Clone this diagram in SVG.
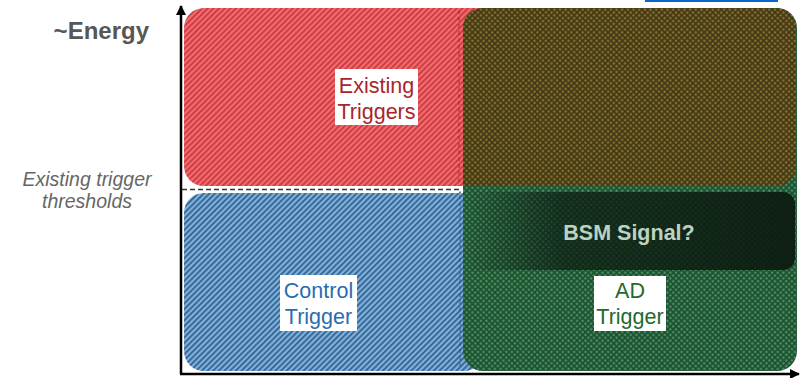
<svg xmlns="http://www.w3.org/2000/svg" width="802" height="378" viewBox="0 0 802 378">
<style>
.lbl{font-family:"Liberation Sans",Arial,sans-serif;font-size:21.5px;text-anchor:middle}
.axis{stroke:#000;stroke-width:2.5;fill:none}
.side{font-family:"Liberation Sans",Arial,sans-serif;font-style:italic;font-size:19.5px;fill:#666;text-anchor:middle}
</style>
<defs>
<pattern id="redH" patternUnits="userSpaceOnUse" width="4" height="4" patternTransform="rotate(45)">
<rect width="4" height="4" fill="#f46a6e"/><rect width="1.6" height="4" fill="#c2363c"/>
</pattern>
<pattern id="blueH" patternUnits="userSpaceOnUse" width="4" height="4" patternTransform="rotate(45)">
<rect width="4" height="4" fill="#80b0dc"/><rect width="1.7" height="4" fill="#2f5f8c"/>
</pattern>
<pattern id="greenH" patternUnits="userSpaceOnUse" width="4" height="4" patternTransform="rotate(45)">
<rect width="4" height="4" fill="#44905e"/><rect width="1.6" height="4" fill="#1e4c2f"/><rect width="4" height="1.6" fill="#1e4c2f"/>
</pattern>
<pattern id="oliveH" patternUnits="userSpaceOnUse" width="4" height="4" patternTransform="rotate(45)">
<rect width="4" height="4" fill="#8a6c30"/><rect width="1.6" height="4" fill="#3d3813"/><rect width="4" height="1.6" fill="#3d3813"/>
</pattern>
<linearGradient id="bsmG" x1="0" y1="0" x2="1" y2="0">
<stop offset="0" stop-color="#0c1a10" stop-opacity="0"/>
<stop offset="0.3" stop-color="#0c1a10" stop-opacity="0.7"/>
<stop offset="1" stop-color="#0c1a10" stop-opacity="0.93"/>
</linearGradient>
<marker id="arr" viewBox="0 0 10 10" refX="9" refY="5" markerWidth="4" markerHeight="4" orient="auto" markerUnits="strokeWidth">
<path d="M0,0 L10,5 L0,10 z" fill="#000"/>
</marker>
</defs>

<rect x="645" y="0" width="133" height="2" fill="#0a66c8"/>

<g id="existing-triggers-region">
<rect x="184" y="8" width="612" height="178" rx="20" fill="url(#redH)"/>
</g>
<g id="control-trigger-region">
<rect x="184" y="193" width="300" height="178" rx="20" fill="url(#blueH)"/>
</g>
<g id="ad-trigger-region">
<rect x="463" y="8" width="334" height="363" rx="20" fill="url(#greenH)"/>
<path d="M483,8 H776 A20,20 0 0 1 796,28 V166 A20,20 0 0 1 776,186 H463 V28 A20,20 0 0 1 483,8 Z" fill="url(#oliveH)"/>
</g>
<g id="bsm-signal">
<rect x="463" y="192" width="332" height="78" rx="12" fill="url(#bsmG)"/>
<text x="629" y="240" font-family="Liberation Sans,Arial,sans-serif" font-weight="bold" font-size="21.5" fill="#bcd2c2" text-anchor="middle">BSM Signal?</text>
</g>

<g id="connectors">
<line x1="459" y1="10" x2="459" y2="186" stroke="#9a2020" stroke-width="1" stroke-dasharray="4,3" opacity="0.8"/>
<line x1="460" y1="195" x2="460" y2="370" stroke="#234f80" stroke-width="1" stroke-dasharray="4,3" opacity="0.8"/>
<rect x="182" y="186" width="280" height="6" fill="#fff"/>
<path d="M182,189.5 H460 V193" stroke="#333" stroke-width="1.3" stroke-dasharray="5,3" fill="none"/>
<line class="axis" x1="181" y1="374" x2="181" y2="6" marker-end="url(#arr)"/>
<line class="axis" x1="180" y1="374" x2="799" y2="374" marker-end="url(#arr)"/>
</g>

<g id="label-existing">
<rect x="335" y="69" width="83" height="56" fill="#fff"/>
<text class="lbl" x="376.5" y="93" fill="#a8262a">Existing</text>
<text class="lbl" x="376.5" y="119" fill="#a8262a">Triggers</text>
</g>
<g id="label-control">
<rect x="280" y="275" width="77" height="56" fill="#fff"/>
<text class="lbl" x="318.5" y="298" fill="#2a6cb0">Control</text>
<text class="lbl" x="318.5" y="324" fill="#2a6cb0">Trigger</text>
</g>
<g id="label-ad">
<rect x="594" y="276" width="72" height="55" fill="#fff"/>
<text class="lbl" x="630" y="298" fill="#1f6a2c">AD</text>
<text class="lbl" x="630" y="324" fill="#1f6a2c">Trigger</text>
</g>

<g id="axis-labels">
<text x="149" y="39" font-family="Liberation Sans,Arial,sans-serif" font-weight="bold" font-size="24" fill="#575757" text-anchor="end">~Energy</text>
<text class="side" x="87" y="186">Existing trigger</text>
<text class="side" x="87" y="208">thresholds</text>
</g>
</svg>
